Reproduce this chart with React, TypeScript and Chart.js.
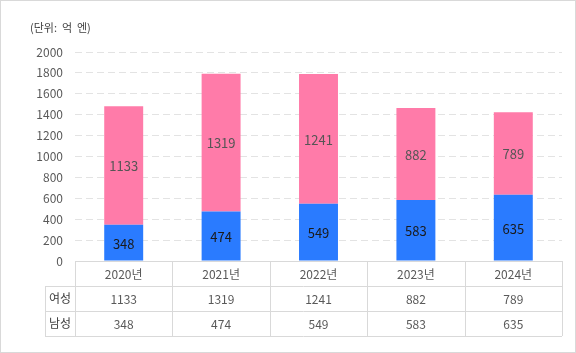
import React, { useEffect, useRef } from "react";
import { Chart, registerables } from "chart.js";

Chart.register(...registerables);

const categories = ["2020년", "2021년", "2022년", "2023년", "2024년"];
const femaleValues = [1133, 1319, 1241, 882, 789];
const maleValues = [348, 474, 549, 583, 635];
const femaleName = "여성";
const maleName = "남성";
const unitLabel = "(단위:  억  엔)";

const FONT = "'Noto Sans CJK KR', 'Noto Sans', sans-serif";
const PINK = "#FF7BA9";
const BLUE = "#2A7BFF";
const LINE = "#d9d9d9";

const framePlugin = {
  id: "frame",
  afterDraw(chart: any) {
    const ctx = chart.ctx;
    ctx.save();
    ctx.strokeStyle = LINE;
    ctx.lineWidth = 1;
    ctx.strokeRect(0.5, 0.5, chart.width - 1, chart.height - 1);
    ctx.fillStyle = "#404040";
    ctx.font = `11px ${FONT}`;
    ctx.textAlign = "left";
    ctx.textBaseline = "middle";
    ctx.fillText(unitLabel, 30, 28);
    ctx.restore();
  },
};

const barLabelPlugin = {
  id: "barLabels",
  afterDatasetsDraw(chart: any) {
    const ctx = chart.ctx;
    ctx.save();
    ctx.font = `13px ${FONT}`;
    ctx.textAlign = "center";
    ctx.textBaseline = "middle";
    chart.data.datasets.forEach((ds: any, di: number) => {
      const meta = chart.getDatasetMeta(di);
      ctx.fillStyle = di === 0 ? "#1a1a1a" : "#555555";
      meta.data.forEach((el: any, i: number) => {
        const y = (el.y + el.base) / 2;
        ctx.fillText(String(ds.data[i]), el.x, y + 1);
      });
    });
    ctx.restore();
  },
};

const tablePlugin = {
  id: "dataTable",
  afterDraw(chart: any) {
    const ctx = chart.ctx;
    const area = chart.chartArea;
    const x = chart.scales.x;
    const left = area.left;
    const right = area.right;
    const top = area.bottom;
    const rowH = 25;
    const labelLeft = 45;
    const n = categories.length;
    const colW = (right - left) / n;
    ctx.save();
    ctx.strokeStyle = LINE;
    ctx.lineWidth = 1;
    const px = (v: number) => Math.round(v) + 0.5;
    ctx.beginPath();
    ctx.moveTo(left, px(top));
    ctx.lineTo(right, px(top));
    for (let r = 1; r <= 3; r++) {
      const yy = px(top + r * rowH);
      ctx.moveTo(labelLeft, yy);
      ctx.lineTo(right, yy);
    }
    ctx.moveTo(px(labelLeft), top + rowH);
    ctx.lineTo(px(labelLeft), top + 3 * rowH);
    for (let c = 0; c <= n; c++) {
      const xx = px(left + c * colW);
      ctx.moveTo(xx, top);
      ctx.lineTo(xx, top + 3 * rowH);
    }
    ctx.stroke();

    ctx.font = `12px ${FONT}`;
    ctx.textAlign = "center";
    ctx.textBaseline = "middle";
    ctx.fillStyle = "#595959";
    categories.forEach((c, i) => {
      const cx = x.getPixelForValue(i);
      ctx.fillText(c, cx, top + rowH / 2 + 1);
      ctx.fillText(String(femaleValues[i]), cx, top + rowH * 1.5 + 1);
      ctx.fillText(String(maleValues[i]), cx, top + rowH * 2.5 + 1);
    });
    ctx.fillStyle = "#404040";
    const lx = (labelLeft + left) / 2;
    ctx.fillText(femaleName, lx, top + rowH * 1.5);
    ctx.fillText(maleName, lx, top + rowH * 2.5);
    ctx.restore();
  },
};

export default function App() {
  const ref = useRef<HTMLCanvasElement | null>(null);
  useEffect(() => {
    document.body.style.margin = "0";
    if (!ref.current) return;
    const chart = new Chart(ref.current, {
      type: "bar",
      data: {
        labels: categories,
        datasets: [
          {
            label: maleName,
            data: maleValues,
            backgroundColor: BLUE,
            borderWidth: 0,
            categoryPercentage: 1,
            barPercentage: 0.4,
          },
          {
            label: femaleName,
            data: femaleValues,
            backgroundColor: PINK,
            borderWidth: 0,
            categoryPercentage: 1,
            barPercentage: 0.4,
          },
        ],
      },
      options: {
        responsive: false,
        animation: false,
        devicePixelRatio: 1,
        layout: { padding: { top: 52, bottom: 92, right: 14, left: 0 } },
        plugins: {
          legend: { display: false },
          tooltip: { enabled: false },
          title: { display: false },
        },
        scales: {
          x: {
            stacked: true,
            display: false,
            offset: true,
          },
          y: {
            stacked: true,
            min: 0,
            max: 2000,
            ticks: {
              stepSize: 200,
              padding: 12,
              color: "#595959",
              font: { family: FONT, size: 12 },
              callback: (v: any) => String(v),
            },
            grid: { color: "#e3e3e3", drawTicks: false, lineWidth: 1 },
            border: { display: false, dash: [7, 4] },
            afterFit(s: any) {
              s.width = 75;
            },
          },
        },
      },
      plugins: [barLabelPlugin, tablePlugin, framePlugin],
    });
    return () => chart.destroy();
  }, []);
  return (
    <div style={{ width: 576, height: 353 }}>
      <canvas ref={ref} width={576} height={353} style={{ display: "block" }} />
    </div>
  );
}
